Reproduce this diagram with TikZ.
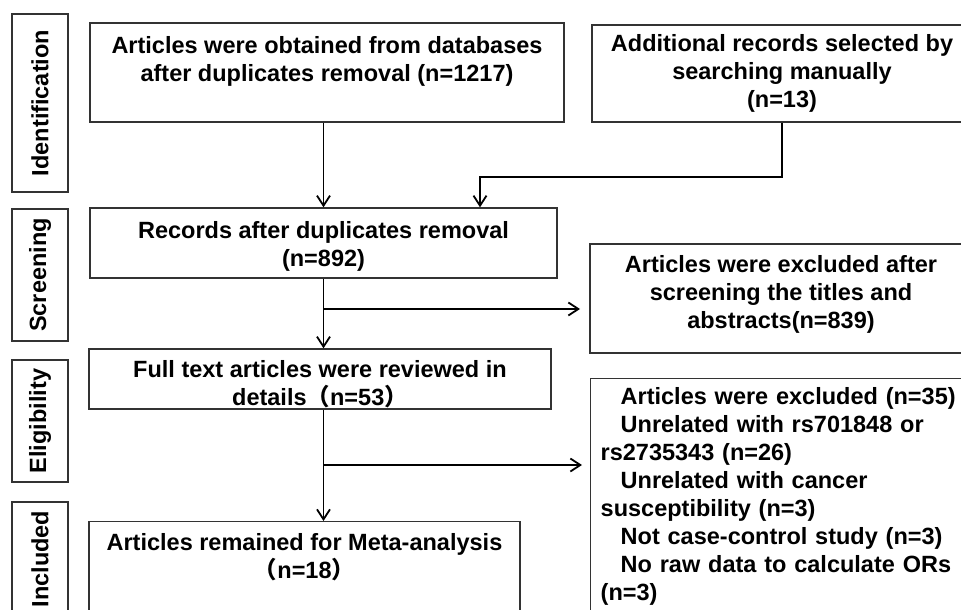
\documentclass[tikz,border=0pt]{standalone}
\usepackage{fontspec}
\setmainfont{Liberation Sans}
\newfontfamily\cjk{Noto Sans CJK SC}
\usetikzlibrary{arrows.meta}
\newcommand\wideparen[1]{{\cjk\smash{#1}}}

\begin{document}
\begin{tikzpicture}[x=1pt,y=-1pt,
        box/.style={draw=black!80,line width=1.4pt,align=center,inner sep=0pt,
            font=\fontsize{23.5}{28}\selectfont\bfseries},
        stage/.style={box,rotate=90,minimum height=56pt},
        arr/.style={line width=1.8pt,-{Straight Barb[length=10pt,width=13pt]}}]
    \useasboundingbox (0,0) rectangle (961,610);
    \clip (0,0) rectangle (961,610);
    %% stage labels
    \foreach \nm/\yc/\len in {Identification/103/178,Screening/275/132,
                              Eligibility/421/122,Included/559/114}
        \node[stage,minimum width=\len pt] (\nm) at (40,\yc) {\nm};
    %% boxes
    \node[box,minimum width=474pt,minimum height=99pt] (databases) at (327,72.5)
        {Articles were obtained from databases\\after duplicates removal (n=1217)\\ \mbox{}};
    \node[box,minimum width=380pt,minimum height=97pt] (manual) at (782,73.5)
        {Additional records selected by\\searching manually\\(n=13)};
    \node[box,minimum width=467pt,minimum height=70pt] (records) at (323.5,243)
        {\rule{0pt}{24pt}Records after duplicates removal\\(n=892)};
    \node[box,minimum width=382pt,minimum height=109pt] (screenout) at (781,298.5)
        {Articles were excluded after\\screening the titles and\\abstracts(n=839)\rule[-14pt]{0pt}{0pt}};
    \node[box,minimum width=462pt,minimum height=60pt] (fulltext) at (320,379)
        {\rule{0pt}{28pt}Full text articles were reviewed in\\
         details\wideparen{（}n=53\wideparen{）}\rule[-4pt]{0pt}{0pt}};
    \node[box,align=left,text width=366pt,inner xsep=10pt,minimum height=236pt,
        anchor=north west] (fullout) at (590,378)
        {\hspace*{20pt}Articles were excluded (n=35)\\
         \hspace*{20pt}Unrelated with rs701848 or\\
         rs2735343 (n=26)\\
         \hspace*{20pt}Unrelated with cancer\\
         susceptibility (n=3)\\
         \hspace*{20pt}Not case-control study (n=3)\\
         \hspace*{20pt}No raw data to calculate ORs\\
         (n=3)};
    \node[box,minimum width=431pt,minimum height=125pt,anchor=north] (included) at (304.5,521)
        {Articles remained for Meta-analysis\\\wideparen{（}n=18\wideparen{）}\\ \strut\\ \mbox{}};
    %% arrows
    \coordinate (join) at (480,177);
    \coordinate (cut1) at (580,309);
    \coordinate (cut2) at (582,465);
    \draw[arr] (databases.south -| records.north) -- (records.north);
    \draw[arr] (manual.south) |- (join) -- (join |- records.north);
    \draw[arr] (records.south) -- (records.south |- fulltext.north);
    \draw[arr] (records.south |- cut1) -- (cut1);
    \draw[arr] (fulltext.south -| records.south) -- (records.south |- included.north);
    \draw[arr] (records.south |- cut2) -- (cut2);
\end{tikzpicture}
\end{document}
